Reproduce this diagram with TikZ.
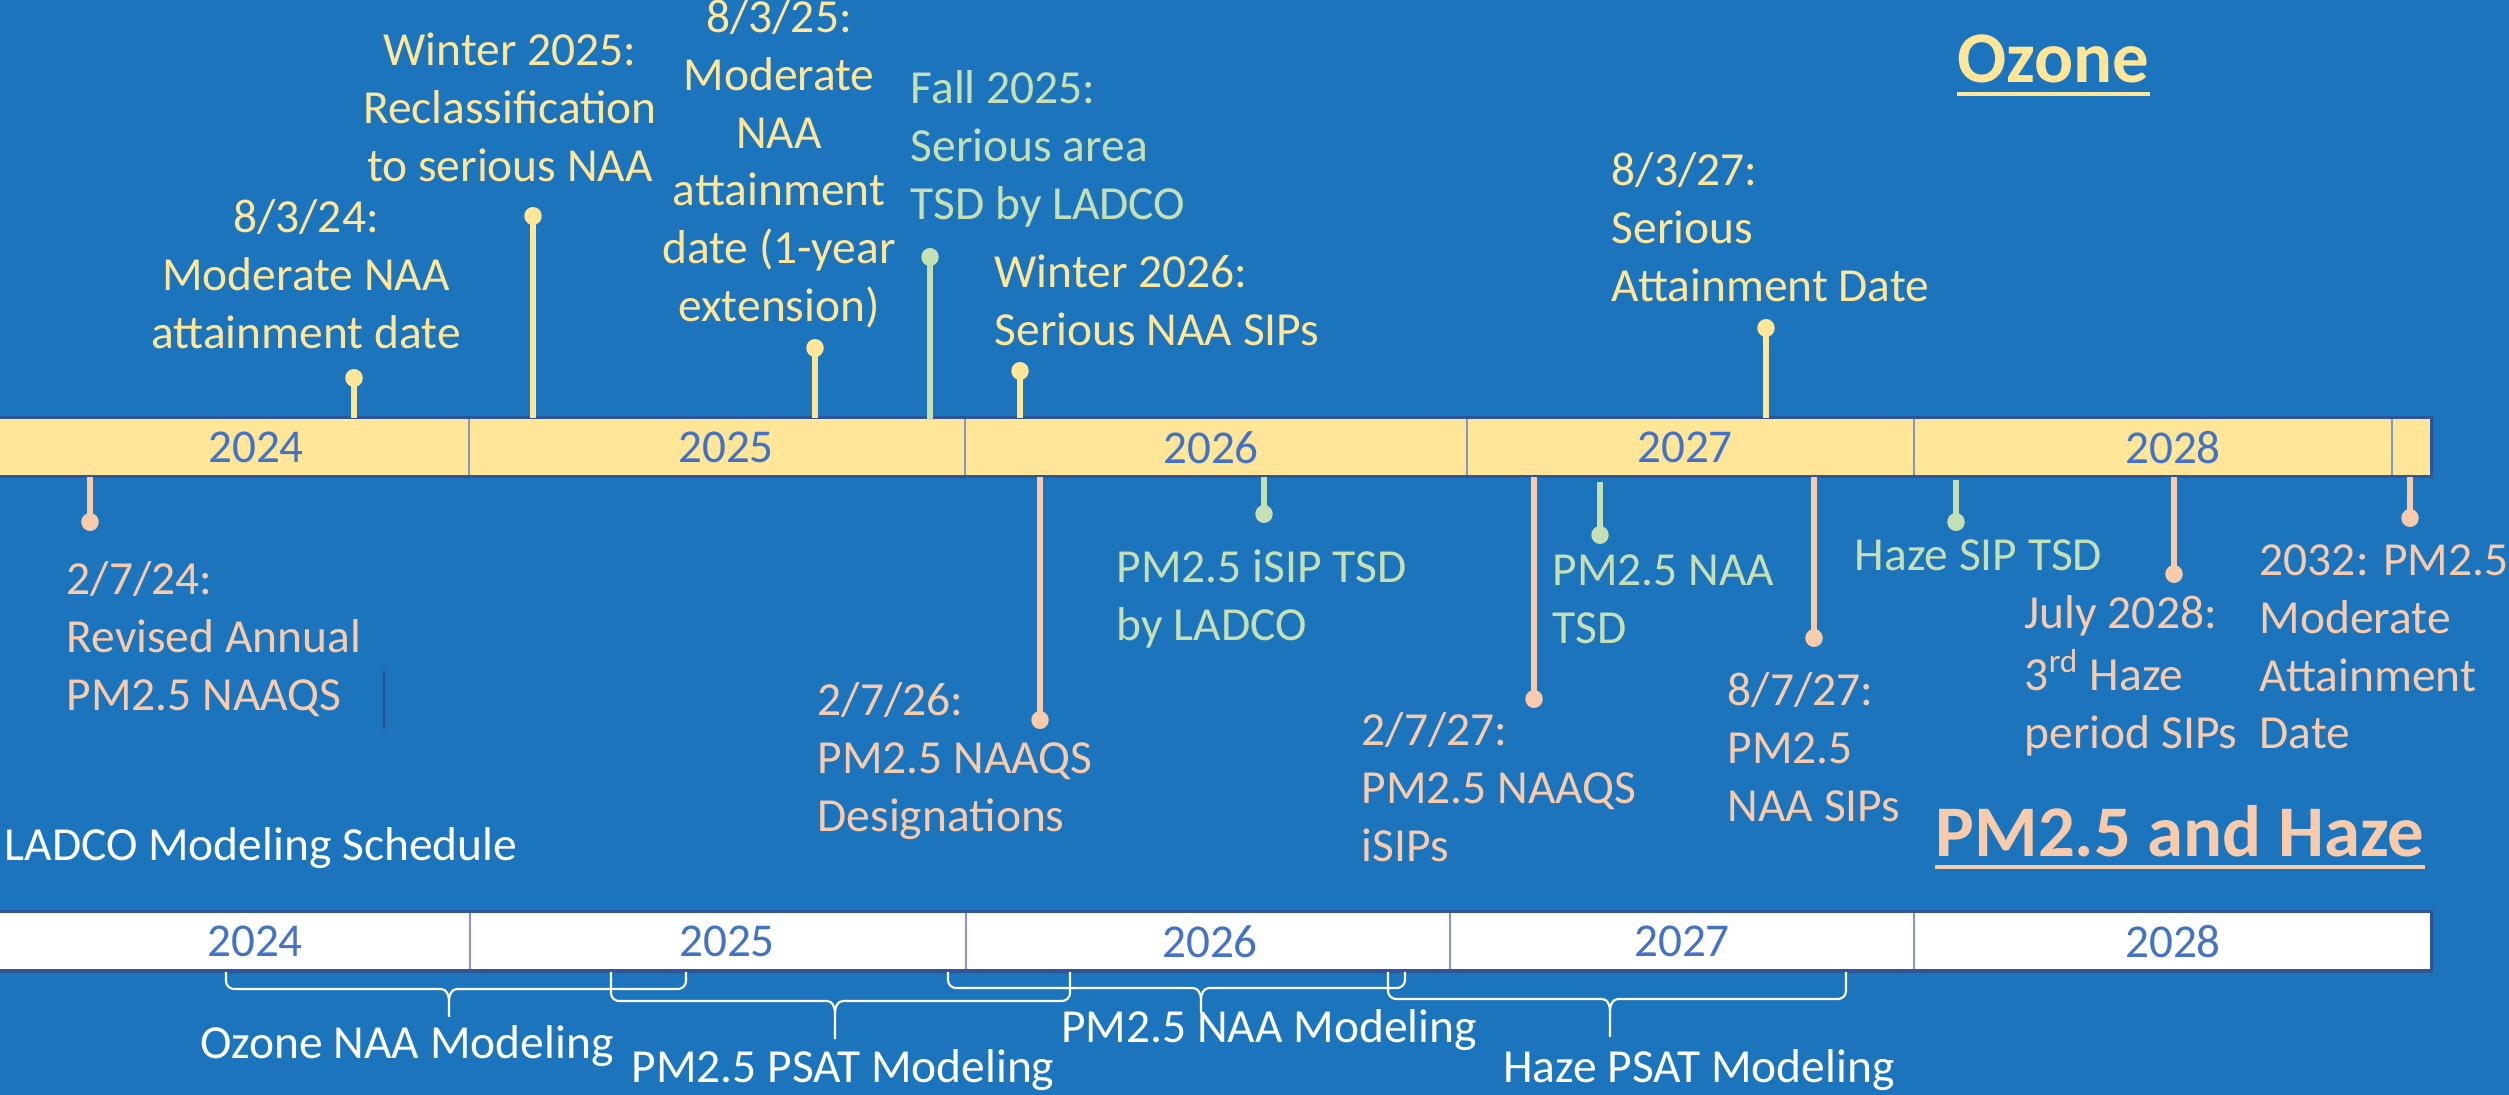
\documentclass[tikz,border=0pt]{standalone}
\usepackage{fontspec}
\setmainfont{Carlito}
\usetikzlibrary{shapes.geometric}
\definecolor{bg}{RGB}{28,117,188}
\definecolor{ozy}{RGB}{255,230,153}
\definecolor{tsdg}{RGB}{197,224,180}
\definecolor{pmp}{RGB}{248,203,173}
\definecolor{yeartxt}{RGB}{68,114,196}
\definecolor{barline}{RGB}{47,85,151}
\definecolor{divline}{RGB}{132,151,190}
\begin{document}
\begin{tikzpicture}[x=0.01cm,y=-0.01cm,
  evtext/.style={inner sep=0pt, font=\fontsize{13.5}{16.4}\selectfont},
  yeartext/.style={inner sep=0pt, text=yeartxt, font=\fontsize{13.4}{15}\selectfont},
  modtext/.style={inner sep=0pt, text=white, font=\fontsize{13.5}{16.4}\selectfont, anchor=base},
  titletext/.style={inner sep=0pt, font=\fontsize{20.7}{24}\selectfont\bfseries, anchor=base west},
  evdot/.style={ellipse, inner sep=0pt, minimum width=0.175cm, minimum height=0.18cm},
  stem/.style={line width=0.055cm},
  bracepath/.style={white, line width=0.6pt},
  divider/.style={divline, line width=0.5pt}]
\useasboundingbox (0,0) rectangle (2509,1095);
\fill[bg] (0,0) rectangle (2509,1095);

% ---------- top (yellow) bar ----------
\fill[ozy] (0,418) rectangle (2431,477);
\foreach \x in {469,965,1467,1914,2392} \draw[divider] (\x,418) -- (\x,477);
\draw[barline, line width=0.03cm] (-5,418) rectangle (2431,477);
\node[yeartext] (ty24) at (256,447.5) {2024};
\node[yeartext] (ty25) at (726,447.5) {2025};
\node[yeartext] (ty26) at (1211,447.5) {2026};
\node[yeartext] (ty27) at (1685,447.5) {2027};
\node[yeartext] (ty28) at (2173,447.5) {2028};

% ---------- events above the bar ----------
% 8/3/24
\coordinate (b1) at (354,418);
\node[evdot, fill=ozy] (d1) at (354,378) {};
\draw[stem, ozy] (b1) -- (d1.center);
\node[evtext, text=ozy, align=center, anchor=north] (t1) at (306,191.6) {\strut 8/3/24:\\Moderate NAA\\attainment date};
% Winter 2025
\coordinate (b2) at (533,418);
\node[evdot, fill=ozy] (d2) at (533,216) {};
\draw[stem, ozy] (b2) -- (d2.center);
\node[evtext, text=ozy, align=center, anchor=north] (t2) at (510,24.6) {\strut Winter 2025:\\Reclassification\\to serious NAA};
% 8/3/25
\coordinate (b3) at (815,418);
\node[evdot, fill=ozy] (d3) at (815,348) {};
\draw[stem, ozy] (b3) -- (d3.center);
\node[evtext, text=ozy, align=center, anchor=north] (t3) at (779,-8.4) {\strut 8/3/25:\\Moderate\\NAA\\attainment\\date (1-year\\extension)};
% Fall 2025
\coordinate (b4) at (930,420);
\node[evdot, fill=tsdg] (d4) at (930,257) {};
\draw[stem, tsdg] (b4) -- (d4.center);
\node[evtext, text=tsdg, align=left, anchor=north west] (t4) at (910,62.6) {\strut Fall 2025:\\Serious area\\TSD by LADCO};
% Winter 2026
\coordinate (b5) at (1020,418);
\node[evdot, fill=ozy] (d5) at (1020,371) {};
\draw[stem, ozy] (b5) -- (d5.center);
\node[evtext, text=ozy, align=left, anchor=north west] (t5) at (994,246.6) {\strut Winter 2026:\\Serious NAA SIPs};
% 8/3/27
\coordinate (b6) at (1766,418);
\node[evdot, fill=ozy] (d6) at (1766,328) {};
\draw[stem, ozy] (b6) -- (d6.center);
\node[evtext, text=ozy, align=left, anchor=north west] (t6) at (1611,144.6) {\strut 8/3/27:\\Serious\\Attainment Date};

% ---------- events below the bar ----------
% 2/7/24
\coordinate (b7) at (90,477);
\node[evdot, fill=pmp] (d7) at (90,522) {};
\draw[stem, pmp] (b7) -- (d7.center);
\node[evtext, text=pmp, align=left, anchor=north west] (t7) at (66,553.6) {\strut 2/7/24:\\Revised Annual\\PM2.5 NAAQS};
\draw[barline, line width=0.4pt] (384,670) -- (384,729);
% 2/7/26
\coordinate (b8) at (1040,477);
\node[evdot, fill=pmp] (d8) at (1040,720) {};
\draw[stem, pmp] (b8) -- (d8.center);
\node[evtext, text=pmp, align=left, anchor=north west] (t8) at (817,674.6) {\strut 2/7/26:\\PM2.5 NAAQS\\Designations};
% PM2.5 iSIP TSD
\coordinate (b9) at (1264,477);
\node[evdot, fill=tsdg] (d9) at (1264,514) {};
\draw[stem, tsdg] (b9) -- (d9.center);
\node[evtext, text=tsdg, align=left, anchor=north west] (t9) at (1116,541.6) {\strut PM2.5 iSIP TSD\\by LADCO};
% 2/7/27
\coordinate (b10) at (1534,477);
\node[evdot, fill=pmp] (d10) at (1534,699) {};
\draw[stem, pmp] (b10) -- (d10.center);
\node[evtext, text=pmp, align=left, anchor=north west] (t10) at (1361,704.6) {\strut 2/7/27:\\PM2.5 NAAQS\\iSIPs};
% PM2.5 NAA TSD
\coordinate (b11) at (1600,482);
\node[evdot, fill=tsdg] (d11) at (1600,535) {};
\draw[stem, tsdg] (b11) -- (d11.center);
\node[evtext, text=tsdg, align=left, anchor=north west] (t11) at (1552,544.6) {\strut PM2.5 NAA\\TSD};
% 8/7/27
\coordinate (b12) at (1814,477);
\node[evdot, fill=pmp] (d12) at (1814,638) {};
\draw[stem, pmp] (b12) -- (d12.center);
\node[evtext, text=pmp, align=left, anchor=north west] (t12) at (1727,664.6) {\strut 8/7/27:\\PM2.5\\NAA SIPs};
% Haze SIP TSD
\coordinate (b13) at (1956,480);
\node[evdot, fill=tsdg] (d13) at (1956,522) {};
\draw[stem, tsdg] (b13) -- (d13.center);
\node[evtext, text=tsdg, align=left, anchor=north west] (t13) at (1854,529.6) {\strut Haze SIP TSD};
% July 2028
\coordinate (b14) at (2174,477);
\node[evdot, fill=pmp] (d14) at (2174,574) {};
\draw[stem, pmp] (b14) -- (d14.center);
\node[evtext, text=pmp, align=left, anchor=north west] (t14) at (2024,587.6) {\strut July 2028:\\3\textsuperscript{rd} Haze\\period SIPs};
% 2032
\coordinate (b15) at (2410,477);
\node[evdot, fill=pmp] (d15) at (2410,518) {};
\draw[stem, pmp] (b15) -- (d15.center);
\node[evtext, text=pmp, align=left, anchor=north west] (t15) at (2259,534.6) {\strut 2032: PM2.5\\Moderate\\Attainment\\Date};

% ---------- titles ----------
\node[titletext, text=ozy] (ozt) at (1957,83) {Ozone};
\draw[ozy, line width=0.04cm] ([yshift=-0.1cm]ozt.south west) -- ([yshift=-0.1cm]ozt.south east);
\node[titletext, text=pmp] (pmt) at (1935,857) {PM2.5 and Haze};
\draw[pmp, line width=0.04cm] ([yshift=-0.09cm]pmt.south west) -- ([yshift=-0.09cm]pmt.south east);

\node[inner sep=0pt, text=white, font=\fontsize{13.5}{16.4}\selectfont, anchor=base west] (lms) at (4,861) {LADCO Modeling Schedule};

% ---------- bottom (white) bar ----------
\fill[white] (0,912) rectangle (2431,971);
\foreach \x in {470,966,1450,1914} \draw[divider] (\x,912) -- (\x,971);
\draw[barline, line width=0.03cm] (-5,912) rectangle (2431,971);
\node[yeartext] (by24) at (255,941.5) {2024};
\node[yeartext] (by25) at (727,941.5) {2025};
\node[yeartext] (by26) at (1210,941.5) {2026};
\node[yeartext] (by27) at (1682,941.5) {2027};
\node[yeartext] (by28) at (2173,941.5) {2028};

% ---------- braces ----------
% Ozone NAA Modeling
\draw[bracepath] (226,972) -- (226,981) to[out=-90,in=180] (234,989) -- (441,989) to[out=0,in=90] (449,1001) -- (449,1017);
\draw[bracepath] (449,1001) to[out=90,in=180] (457,989) -- (678,989) to[out=0,in=-90] (686,981) -- (686,972);
% PM2.5 PSAT Modeling
\draw[bracepath] (611,972) -- (611,993) to[out=-90,in=180] (619,1001) -- (827,1001) to[out=0,in=90] (835,1013) -- (835,1039);
\draw[bracepath] (835,1013) to[out=90,in=180] (843,1001) -- (1062,1001) to[out=0,in=-90] (1070,993) -- (1070,972);
% PM2.5 NAA Modeling
\draw[bracepath] (948,972) -- (948,980) to[out=-90,in=180] (956,988) -- (1193,988) to[out=0,in=90] (1201,1000) -- (1201,1013);
\draw[bracepath] (1201,1000) to[out=90,in=180] (1209,988) -- (1397,988) to[out=0,in=-90] (1405,980) -- (1405,972);
% Haze PSAT Modeling
\draw[bracepath] (1388,972) -- (1388,991) to[out=-90,in=180] (1396,999) -- (1602,999) to[out=0,in=90] (1610,1011) -- (1610,1037);
\draw[bracepath] (1610,1011) to[out=90,in=180] (1618,999) -- (1838,999) to[out=0,in=-90] (1846,991) -- (1846,972);

\node[modtext] (m1) at (407,1058) {Ozone NAA Modeling};
\node[modtext] (m2) at (843,1083) {PM2.5 PSAT Modeling};
\node[modtext] (m3) at (1269,1042) {PM2.5 NAA Modeling};
\node[modtext] (m4) at (1699,1083) {Haze PSAT Modeling};
\end{tikzpicture}
\end{document}
